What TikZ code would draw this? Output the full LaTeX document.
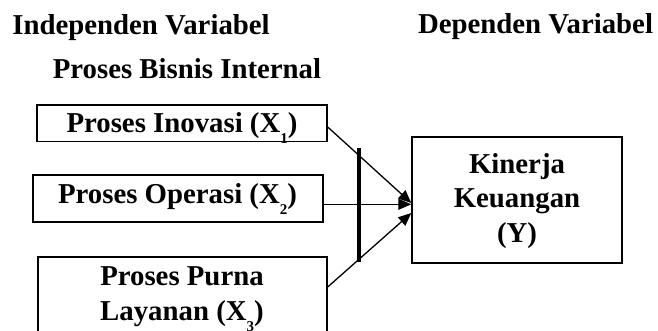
\documentclass[tikz,border=0pt]{standalone}
\usepackage{fontspec}
\setmainfont{Liberation Serif}
\usetikzlibrary{arrows.meta}
\newcommand{\sbx}[1]{\raisebox{-11pt}{\fontsize{15}{15}\selectfont #1}}
\begin{document}
\begin{tikzpicture}[x=1pt,y=-1pt,
  txt/.style={font=\fontsize{28.8}{34.5}\selectfont\bfseries, inner sep=0pt, anchor=base, align=center},
  box/.style={draw, line width=1.4pt, inner sep=0pt},
  arr/.style={line width=1.3pt, -{Triangle[length=13pt,width=11pt]}}]
\useasboundingbox (0,0) rectangle (658,331);
% headers
\node[txt] (iv) at (141,35) {Independen Variabel};
\node[txt] (dv) at (535.5,34) {Dependen Variabel};
\node[txt] (pbi) at (187,78.3) {Proses Bisnis Internal};
% boxes
\node[box, minimum width=290pt, minimum height=36.7pt] (b1) at (182,123.3) {};
\node[box, minimum width=290pt, minimum height=47pt] (b2) at (178,198.5) {};
\node[box, minimum width=289pt, minimum height=88pt] (b3) at (182.5,301) {};
\node[box, minimum width=210pt, minimum height=126pt] (by) at (517,200) {};
% box texts
\node[txt] (t1) at (182,132.7) {Proses Inovasi (X\sbx{1})};
\node[txt] (t2) at (177.5,203.3) {Proses Operasi (X\sbx{2})};
\node[txt] (t3a) at (182,285) {Proses Purna};
\node[txt] (t3b) at (182,320) {Layanan (X\sbx{3})};
\node[txt] (ty) at (517,242) {Kinerja\\Keuangan\\(Y)};
% bar
\node[fill=black, inner sep=0pt, minimum width=3.5pt, minimum height=114pt] (bar) at (359,205) {};
% connectors
\coordinate (e1) at ([yshift=-3.7pt]b1.east);
\coordinate (e2) at ([yshift=-5.8pt]b2.east);
\coordinate (e3) at ([yshift=14pt]b3.east);
\coordinate (h1) at ([yshift=-3pt]by.west);
\coordinate (h2) at ([yshift=-4.3pt]by.west);
\coordinate (h3) at ([yshift=-13pt]by.west);
\draw[arr] (e1) -- (h1);
\draw[arr] (e2) -- (h2);
\draw[arr] (e3) -- (h3);
\end{tikzpicture}
\end{document}
